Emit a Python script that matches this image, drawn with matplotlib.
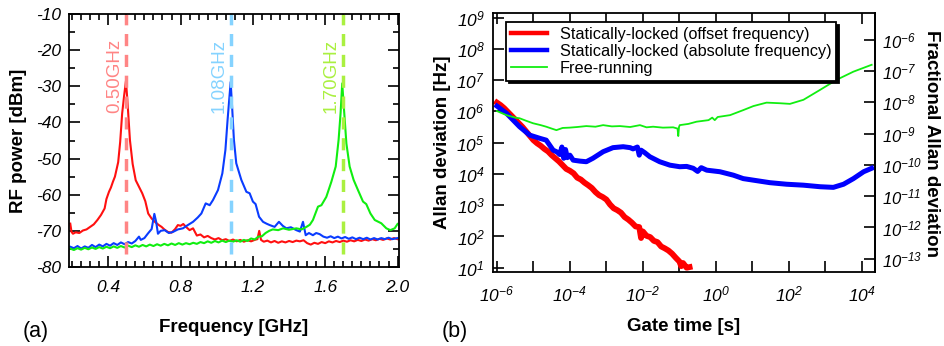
import numpy as np
import matplotlib
matplotlib.use("Agg")
import matplotlib.pyplot as plt
from matplotlib.ticker import MultipleLocator, FixedLocator, FuncFormatter, NullLocator

plt.rcParams["font.family"] = ["Liberation Sans", "DejaVu Sans"]
plt.rcParams["font.style"] = "italic"

# ---- panel (a): RF spectra, frequency [GHz] vs power [dBm]
red_f = [0.19, 0.197, 0.205, 0.22, 0.24, 0.26, 0.28, 0.3, 0.32, 0.34, 0.36, 0.38, 0.39, 0.404,
         0.415, 0.426, 0.437, 0.455, 0.466, 0.477, 0.488, 0.498, 0.506, 0.52, 0.535, 0.552,
         0.57, 0.588, 0.605, 0.621, 0.64, 0.66, 0.68, 0.695, 0.71, 0.73, 0.75, 0.77, 0.785,
         0.8, 0.815, 0.83, 0.85, 0.869, 0.89, 0.91, 0.93, 0.95, 0.97, 0.99, 1.01, 1.03, 1.05,
         1.07, 1.09, 1.11, 1.13, 1.15, 1.17, 1.19, 1.21, 1.225, 1.235, 1.245, 1.26, 1.28, 1.3,
         1.32, 1.34, 1.36, 1.38, 1.4, 1.42, 1.44, 1.46, 1.48, 1.5, 1.52, 1.54, 1.56, 1.58, 1.6,
         1.62, 1.64, 1.66, 1.68, 1.7, 1.72, 1.74, 1.76, 1.78, 1.8, 1.82, 1.84, 1.86, 1.88, 1.9,
         1.92, 1.94, 1.96, 1.98, 2.0]
red_db = [-68.0, -70.3, -70.8, -70.4, -70.6, -69.9, -69.6, -68.9, -68.2, -67.0, -65.6, -63.8,
          -61.2, -59.2, -58.0, -56.4, -55.0, -51.0, -45.4, -37.5, -32.5, -28.5, -34.0, -44.9,
          -51.5, -56.0, -57.8, -59.6, -61.8, -65.2, -66.6, -67.6, -68.4, -68.9, -69.6, -70.3,
          -70.5, -69.5, -68.4, -68.6, -68.1, -68.9, -69.8, -69.3, -71.3, -71.0, -71.8, -71.4,
          -72.0, -72.4, -72.0, -72.6, -72.3, -72.8, -72.4, -72.9, -72.5, -73.0, -72.6, -72.9,
          -72.5, -72.3, -70.0, -72.5, -73.0, -72.7, -73.2, -72.8, -73.3, -72.9, -73.2, -72.8,
          -73.1, -72.7, -72.9, -72.6, -73.4, -73.8, -73.3, -73.6, -73.1, -73.4, -72.9, -73.2,
          -72.8, -73.1, -72.7, -73.0, -72.6, -72.9, -72.5, -72.8, -72.4, -72.7, -72.3, -72.6,
          -72.2, -72.5, -72.1, -72.4, -72.0, -72.3]

blue_f = [0.19, 0.21, 0.23, 0.25, 0.27, 0.29, 0.31, 0.33, 0.35, 0.37, 0.39, 0.41, 0.43, 0.45,
          0.47, 0.49, 0.51, 0.53, 0.55, 0.57, 0.58, 0.6, 0.62, 0.64, 0.655, 0.665, 0.675, 0.69,
          0.712, 0.735, 0.758, 0.785, 0.813, 0.84, 0.869, 0.895, 0.915, 0.939, 0.961, 0.979,
          1.007, 1.031, 1.048, 1.06, 1.077, 1.086, 1.095, 1.108, 1.136, 1.164, 1.182, 1.2, 1.215,
          1.234, 1.256, 1.275, 1.293, 1.32, 1.344, 1.365, 1.385, 1.41, 1.44, 1.46, 1.477, 1.492,
          1.51, 1.532, 1.55, 1.569, 1.59, 1.61, 1.63, 1.65, 1.67, 1.69, 1.71, 1.73, 1.75, 1.77,
          1.79, 1.81, 1.83, 1.85, 1.87, 1.89, 1.91, 1.93, 1.95, 1.97, 2.0]
blue_db = [-74.4, -74.8, -74.2, -74.9, -74.3, -74.7, -73.9, -74.5, -73.8, -74.3, -73.6, -74.1,
           -73.4, -73.9, -73.2, -73.7, -73.1, -73.5, -72.8, -71.6, -72.5, -72.0, -70.7, -69.5,
           -65.3, -67.5, -70.8, -70.0, -69.8, -70.6, -70.3, -69.6, -69.3, -68.4, -67.5, -66.3,
           -65.2, -62.4, -62.9, -61.5, -58.7, -54.1, -47.6, -39.3, -28.8, -36.5, -44.8, -51.3,
           -55.9, -59.2, -59.6, -61.9, -62.6, -66.1, -67.5, -68.0, -68.4, -68.9, -67.5, -68.6,
           -69.3, -69.0, -69.8, -70.2, -67.5, -71.2, -70.6, -71.2, -70.6, -70.9, -71.6, -71.9,
           -71.5, -72.0, -71.6, -72.1, -71.7, -72.2, -71.8, -72.3, -71.9, -72.3, -71.9, -72.4,
           -72.0, -72.4, -72.0, -72.3, -71.9, -72.3, -72.0]

green_f = [0.19, 0.21, 0.23, 0.25, 0.27, 0.29, 0.31, 0.33, 0.35, 0.37, 0.39, 0.41, 0.43, 0.45,
           0.47, 0.49, 0.51, 0.53, 0.55, 0.57, 0.59, 0.61, 0.63, 0.65, 0.67, 0.69, 0.71, 0.73,
           0.75, 0.77, 0.79, 0.81, 0.83, 0.85, 0.87, 0.89, 0.91, 0.93, 0.95, 0.97, 0.99, 1.01,
           1.03, 1.05, 1.07, 1.09, 1.11, 1.13, 1.15, 1.17, 1.19, 1.21, 1.23, 1.25, 1.27, 1.29,
           1.31, 1.34, 1.367, 1.4, 1.44, 1.47, 1.496, 1.515, 1.532, 1.56, 1.579, 1.606, 1.634,
           1.658, 1.674, 1.685, 1.694, 1.704, 1.717, 1.735, 1.757, 1.781, 1.809, 1.827, 1.85,
           1.874, 1.91, 1.938, 1.96, 1.984, 2.0]
green_db = [-74.9, -75.3, -74.8, -75.2, -74.7, -75.1, -74.6, -75.0, -74.5, -74.9, -74.4, -74.8,
            -74.3, -74.7, -74.2, -74.6, -74.1, -74.5, -74.0, -74.4, -73.9, -74.3, -73.8, -74.2,
            -73.7, -74.1, -73.6, -74.0, -73.5, -73.9, -73.4, -73.8, -73.4, -73.7, -73.3, -73.6,
            -73.1, -73.4, -72.9, -73.3, -72.8, -73.2, -72.7, -73.1, -72.7, -73.0, -72.6, -73.0,
            -72.5, -72.8, -72.1, -72.4, -71.6, -71.5, -70.6, -70.0, -69.6, -69.8, -69.3, -69.7,
            -69.3, -69.6, -68.9, -68.3, -67.0, -63.3, -62.9, -60.6, -56.4, -52.2, -44.8, -37.4,
            -29.2, -36.5, -45.8, -52.2, -55.9, -58.7, -61.9, -62.6, -65.2, -67.0, -67.9, -69.3,
            -69.8, -69.3, -68.1]

peak_freqs = [0.50, 1.08, 1.70]
peak_labels = ["0.50GHz", "1.08GHz", "1.70GHz"]

# ---- panel (b): Allan deviation, log10(gate time [s]) vs log10(deviation [Hz])
red_logt = [-6.0, -5.9, -5.8, -5.7, -5.6, -5.5, -5.4, -5.3, -5.2, -5.1, -5.0, -4.9, -4.8, -4.7,
            -4.6, -4.5, -4.4, -4.3, -4.2, -4.1, -4.0, -3.9, -3.8, -3.7, -3.6, -3.5, -3.4, -3.3,
            -3.2, -3.1, -3.0, -2.9, -2.8, -2.7, -2.6, -2.5, -2.4, -2.3, -2.2, -2.1, -2.05, -2.0,
            -1.9, -1.8, -1.7, -1.6, -1.5, -1.4, -1.3, -1.2, -1.1, -1.0, -0.95, -0.9, -0.8, -0.72]
red_logy = [6.28, 6.2, 6.1, 5.98, 5.86, 5.74, 5.62, 5.5, 5.36, 5.22, 5.08, 4.98, 4.9, 4.8, 4.72,
            4.6, 4.5, 4.4, 4.28, 4.16, 4.1, 4.02, 3.88, 3.82, 3.72, 3.64, 3.55, 3.42, 3.32, 3.26,
            3.18, 3.02, 2.9, 2.84, 2.76, 2.62, 2.54, 2.44, 2.32, 2.3, 1.95, 2.16, 2.02, 1.98, 1.86,
            1.82, 1.68, 1.62, 1.55, 1.45, 1.32, 1.2, 1.05, 1.15, 1.0, 1.02]

blue_logt = [-6.0, -5.74, -5.38, -5.1, -4.83, -4.65, -4.46, -4.35, -4.28, -4.22, -4.17, -4.12,
             -4.07, -4.0, -3.91, -3.73, -3.55, -3.37, -3.09, -2.82, -2.54, -2.35, -2.27, -2.15,
             -2.1, -2.05, -1.95, -1.81, -1.54, -1.26, -0.99, -0.8, -0.62, -0.5, -0.4, -0.25, 0.11,
             0.48, 0.75, 1.03, 1.48, 1.94, 2.4, 2.86, 3.22, 3.5, 3.77, 4.05, 4.27]
blue_logy = [6.17, 5.94, 5.51, 5.24, 5.14, 5.08, 4.76, 4.7, 4.62, 4.86, 4.5, 4.78, 4.52, 4.6,
             4.44, 4.41, 4.39, 4.5, 4.71, 4.84, 4.87, 4.84, 4.8, 4.86, 4.6, 4.76, 4.68, 4.55,
             4.39, 4.28, 4.23, 4.24, 4.18, 4.08, 4.2, 4.12, 4.07, 3.96, 3.85, 3.8, 3.72, 3.67,
             3.64, 3.59, 3.57, 3.67, 3.85, 4.07, 4.18]

green_logt = [-6.0, -5.74, -5.5, -5.38, -5.2, -5.01, -4.8, -4.65, -4.5, -4.37, -4.2, -4.01, -3.8,
              -3.55, -3.3, -3.09, -2.85, -2.63, -2.35, -2.08, -1.9, -1.72, -1.45, -1.17, -1.05,
              -1.03, -1.01, -0.99, -0.75, -0.53, -0.2, -0.1, -0.03, 0.05, 0.39, 0.75, 1.03, 1.39,
              1.76, 2.03, 2.4, 2.86, 3.31, 3.77, 4.27]
green_logy = [6.01, 5.88, 5.8, 5.78, 5.7, 5.62, 5.56, 5.51, 5.45, 5.4, 5.47, 5.48, 5.5, 5.53,
              5.51, 5.56, 5.52, 5.53, 5.5, 5.56, 5.49, 5.51, 5.48, 5.49, 5.45, 5.21, 5.5, 5.56,
              5.6, 5.67, 5.72, 5.8, 5.72, 5.82, 5.88, 6.04, 6.17, 6.28, 6.26, 6.24, 6.37, 6.69,
              7.01, 7.27, 7.49]

legend_labels = ["Statically-locked (offset frequency)",
                 "Statically-locked (absolute frequency)",
                 "Free-running"]
NU = 1.94e14  # optical carrier frequency [Hz] for the fractional axis

fig = plt.figure(figsize=(9.45, 3.46), dpi=100)
W, H = 945.0, 346.0
ax1 = fig.add_axes([69 / W, (H - 267) / H, 330 / W, 253 / H])
ax2 = fig.add_axes([493 / W, (H - 272) / H, 382 / W, 259 / H])

# panel (a)
ax1.plot(red_f, red_db, color="#ff1010", lw=1.5)
ax1.plot(blue_f, blue_db, color="#0a3cff", lw=1.5)
ax1.plot(green_f, green_db, color="#10ee10", lw=1.5)
for f, lab, c in zip(peak_freqs, peak_labels, ["#ff8585", "#85d3ff", "#aaf040"]):
    ax1.axvline(f, ymin=0.05, ymax=1.0, color=c, lw=2.5, ls=(0, (3.5, 2.5)))
    ax1.text(f - 0.066, -37.5, lab, color=c, rotation=90, ha="center", va="bottom",
             fontsize=13.5, fontstyle="normal")
ax1.set_xlim(0.183, 2.008)
ax1.set_ylim(-80, -10)
ax1.xaxis.set_major_locator(MultipleLocator(0.4))
ax1.xaxis.set_minor_locator(MultipleLocator(0.05))
ax1.yaxis.set_major_locator(MultipleLocator(10))
ax1.yaxis.set_minor_locator(MultipleLocator(5))
ax1.xaxis.set_major_formatter(FuncFormatter(lambda v, p: f"{v:.1f}"))
ax1.yaxis.set_major_formatter(FuncFormatter(lambda v, p: f"{v:.0f}"))
ax1.tick_params(which="both", direction="in", top=True, right=True, labelsize=12.5, width=1.2)
ax1.tick_params(which="major", length=8)
ax1.tick_params(axis="x", which="major", pad=9)
ax1.tick_params(axis="y", which="major", pad=6)
ax1.tick_params(which="minor", length=4)
ax1.set_xlabel("Frequency [GHz]", fontsize=13.5, fontweight="bold", fontstyle="normal", labelpad=18)
ax1.set_ylabel("RF power [dBm]", fontsize=13.5, fontweight="bold", fontstyle="normal", labelpad=6)

# panel (b)
ax2.plot(10 ** np.array(red_logt), 10 ** np.array(red_logy), color="#ff0000", lw=4.2,
         label=legend_labels[0])
ax2.plot(10 ** np.array(blue_logt), 10 ** np.array(blue_logy), color="#0000ff", lw=3.6,
         label=legend_labels[1])
ax2.plot(10 ** np.array(green_logt), 10 ** np.array(green_logy), color="#11ee11", lw=1.3,
         label=legend_labels[2])
ax2.set_xscale("log")
ax2.set_yscale("log")
ax2.set_xlim(7.8e-7, 2.3e4)
ax2.set_ylim(7.3, 1.4e9)
ax2.xaxis.set_major_locator(FixedLocator(10.0 ** np.arange(-6, 5)))
ax2.xaxis.set_minor_locator(NullLocator())
ax2.xaxis.set_major_formatter(FuncFormatter(
    lambda v, p: r"$\mathdefault{10^{%d}}$" % round(np.log10(v)) if round(np.log10(v)) % 2 == 0 else ""))
ax2.yaxis.set_major_locator(FixedLocator(10.0 ** np.arange(1, 10)))
ax2.yaxis.set_minor_locator(NullLocator())
ax2.yaxis.set_major_formatter(FuncFormatter(lambda v, p: r"$\mathdefault{10^{%d}}$" % round(np.log10(v))))
ax2.tick_params(which="major", direction="in", top=True, right=False, length=8, width=1.2,
                labelsize=12.5)
ax2.tick_params(axis="x", pad=9)
ax2.tick_params(axis="y", pad=6)

sec = ax2.secondary_yaxis("right", functions=(lambda y: y / NU, lambda y: y * NU))
sec.yaxis.set_major_locator(FixedLocator(10.0 ** np.arange(-13, -5)))
sec.yaxis.set_minor_locator(NullLocator())
sec.yaxis.set_major_formatter(FuncFormatter(lambda v, p: r"$\mathdefault{10^{%d}}$" % round(np.log10(v))))
sec.tick_params(which="major", direction="in", length=8, width=1.2, labelsize=12, pad=5)
fig.text(932 / W, 1 - 143 / H, "Fractional Allan deviation", fontsize=13.5, fontweight="bold",
         fontstyle="normal", rotation=270, ha="center", va="center")

ax2.set_xlabel("Gate time [s]", fontsize=13.5, fontweight="bold", fontstyle="normal", labelpad=10)
ax2.set_ylabel("Allan deviation [Hz]", fontsize=13.5, fontweight="bold", fontstyle="normal", labelpad=4)

leg = ax2.legend(loc="upper left", bbox_to_anchor=(0.034, 0.965), borderaxespad=0,
                 fancybox=False, edgecolor="black", framealpha=1,
                 shadow={"color": "black", "alpha": 1.0}, prop={"size": 11.7, "style": "normal"},
                 handlelength=2.2, labelspacing=0.12, borderpad=0.3, handletextpad=0.8)
leg.get_frame().set_linewidth(1.3)
for h, w in zip(leg.get_lines(), [3.2, 3.2, 1.3]):
    h.set_linewidth(w)

for ax in (ax1, ax2):
    for s in ax.spines.values():
        s.set_linewidth(1.3)
sec.spines["right"].set_linewidth(1.3)

fig.text(23 / W, 1 - 331 / H, "(a)", fontsize=15.5, fontstyle="normal", va="center", ha="left")
fig.text(442 / W, 1 - 331 / H, "(b)", fontsize=15.5, fontstyle="normal", va="center", ha="left")

fig.savefig("out.png", dpi=100)
